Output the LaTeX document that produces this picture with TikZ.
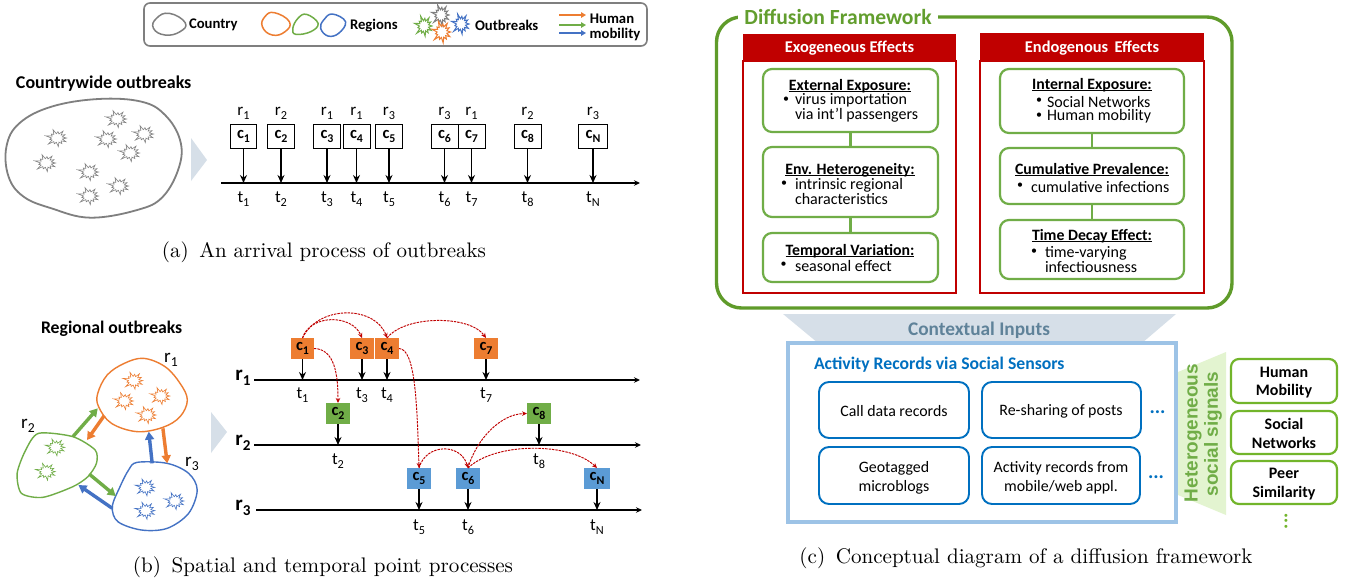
\documentclass[tikz,border=0pt]{standalone}
\usepackage{fontspec}
\usetikzlibrary{arrows.meta}
\newfontfamily\calib{Carlito}
\newfontfamily\arl{Liberation Sans}
\newcommand\fs[2]{\fontsize{#1}{#2}\selectfont}
\newcommand\sbs[1]{\raisebox{-.24em}{\scalebox{.72}{#1}}}
\newcommand\ulin[1]{\setbox0\hbox{#1}\rlap{\rule[-1.7pt]{\wd0}{.8pt}}\box0}
% #1 colour, #2 x, #3 y, #4 half width, #5 half height, #6 line width
\newcommand\burstat[6]{\draw[draw=#1,line width=#6,line join=miter,miter limit=8,shift={(#2,#3)},x=#4,y=#5]
  plot[samples at={0,...,25},variable=\q]
  ({((mod(\q,2)==0) ? (1+.22*sin(\q*97)) : .58)*cos(\q*360/26)},{((mod(\q,2)==0) ? (1+.22*sin(\q*97)) : .58)*sin(\q*360/26)}) -- cycle;}
\definecolor{cgray}{HTML}{7F7F7F}
\definecolor{corange}{HTML}{ED7D31}
\definecolor{cgreen}{HTML}{70AD47}
\definecolor{cblue}{HTML}{4472C4}
\definecolor{cred}{HTML}{C00000}
\definecolor{cpale}{HTML}{D6DFE8}
\definecolor{colive}{HTML}{5F9B2A}
\definecolor{csky}{HTML}{9DC3E6}
\definecolor{cdeep}{HTML}{0070C0}
\definecolor{clime}{HTML}{72B52B}
\definecolor{cmint}{HTML}{E3F4D0}
\definecolor{fillblue}{HTML}{5B9BD5}
\definecolor{cslate}{HTML}{5F8299}
\tikzset{
  txt/.style={inner sep=0pt,outer sep=0pt,font=\calib\fs{16}{15},align=center},
  txl/.style={txt,align=left,anchor=west},
  dotb/.style={txt,font=\calib\fs{12}{12}},
  bold/.style={inner sep=0pt,outer sep=0pt,anchor=base,font=\calib\bfseries\fs{15.8}{15}},
  legendtxt/.style={txt,font=\calib\bfseries\fs{14.7}{15}},
  capt/.style={inner sep=0pt,outer sep=0pt},
  blob/.style={line width=#1,line join=round},
  fat/.style={line width=3.4pt,-{Triangle[length=8pt,width=9pt]}},
  tick/.style={line width=1.4pt,-{Stealth[length=8pt,width=7pt]}},
  axis/.style={line width=1.7pt,-{Stealth[length=6pt,width=5.5pt]}},
  wbox/.style={draw=black,line width=.7pt,fill=white,minimum height=24pt,minimum width=26pt,inner sep=0pt,outer sep=0pt,font=\calib\bfseries\fs{16.5}{15}},
  fbox/.style={minimum height=21pt,minimum width=24pt,inner sep=0pt,outer sep=0pt,font=\calib\bfseries\fs{16.5}{15},fill=#1},
  rdash/.style={draw=cred,line width=.95pt,dash pattern=on 2.4pt off 1pt,-{Stealth[length=5pt,width=4.5pt]}},
  gbox/.style={draw=cgreen,line width=2.2pt,rounded corners=9pt,fill=white,inner sep=0pt,outer sep=0pt},
  glink/.style={draw=cgreen,line width=2.2pt},
  bbox/.style={draw=cdeep,line width=1.9pt,rounded corners=10pt,fill=white,inner sep=0pt,outer sep=0pt},
  btxt/.style={inner sep=0pt,outer sep=0pt,font=\calib\fs{15.9}{19},align=center},
  lbox/.style={draw=clime,line width=2.2pt,rounded corners=8pt,fill=white,inner sep=0pt,outer sep=0pt,minimum width=106pt},
  ltxt/.style={inner sep=0pt,outer sep=0pt,font=\calib\bfseries\fs{16}{18.5},align=center},
  phead/.style={fill=cred,inner sep=0pt,outer sep=0pt},
  headtxt/.style={text=white,inner sep=0pt,outer sep=0pt,font=\calib\bfseries\fs{16.4}{15}},
  pbody/.style={draw=cred,line width=1.5pt,fill=white,inner sep=0pt,outer sep=0pt},
  zoomA/.style={x=.4287pt,y=-.33333pt},
  zoomB/.style={x=.4287pt,y=-.33333pt,yshift=-300pt},
}
\begin{document}
\begin{tikzpicture}[x=1pt,y=-1pt]
\useasboundingbox (0,0) rectangle (1346,582);
\fill[white] (0,0) rectangle (1346,582);

% ---------- legend
\node[draw=cgray,line width=1.6pt,rounded corners=6pt,minimum width=503pt,minimum height=43pt,inner sep=0pt,outer sep=0pt] (legend) at (395.5,24.5) {};
\begin{scope}[zoomA]
\draw[cgray,blob=1.5pt] plot[smooth cycle,tension=.8] coordinates {(395,40)(432,68)(420,95)(385,105)(358,85)(365,55)};
\draw[corange,blob=1.5pt] plot[smooth cycle,tension=.8] coordinates {(640,38)(675,65)(665,95)(635,105)(612,80)(618,50)};
\draw[cgreen,blob=1.5pt] plot[smooth cycle,tension=.7] coordinates {(715,43)(742,70)(725,95)(690,103)(683,85)(695,55)};
\draw[cblue,blob=1.5pt] plot[smooth cycle,tension=.7] coordinates {(775,42)(806,65)(790,100)(765,108)(748,85)(755,60)};
\end{scope}
\node[legendtxt,anchor=west] (lcountry) at (189,24.5) {Country};
\node[legendtxt,anchor=west] (lregions) at (350,25.5) {Regions};
\node[legendtxt,anchor=west] (loutbreaks) at (475,25) {Outbreaks};
\burstat{cgreen}{424}{26}{8pt}{9pt}{1pt}
\burstat{cgray}{441}{15}{8pt}{9pt}{1pt}
\burstat{corange}{442}{32}{8.5pt}{9.5pt}{1pt}
\burstat{cblue}{461}{24}{8pt}{9pt}{1pt}
\foreach \n/\y/\c in {a/15/corange,b/25/cgreen,c/33/cblue}{
  \coordinate (ls\n) at (559,\y);
  \coordinate (le\n) at (586,\y);
  \draw[\c,line width=1.8pt,-{Triangle[length=5pt,width=5.5pt]}] (ls\n) -- (le\n);
}
\node[legendtxt] (lhuman) at (612,19) {Human};
\node[legendtxt] (lmob) at (615,34.5) {mobility};

% ---------- (a)
\node[txt,font=\calib\bfseries\fs{18}{16},anchor=west] (ttla) at (16,83.5) {Countrywide outbreaks};
\begin{scope}[zoomA]
\draw[cgray,blob=1.8pt] plot[smooth cycle,tension=.65] coordinates {(230,297)(330,305)(385,345)(420,420)(418,500)(380,590)(320,630)(210,653)(120,625)(55,590)(20,530)(15,440)(45,370)(120,320)};
\end{scope}
\foreach \i/\x/\y in {1/117/119,2/57/138,3/107/139,4/144/134,5/130/153,6/46/163,7/89/172,8/119/186,9/89/196}{
  \burstat{cgray}{\x}{\y}{9.5pt}{7.5pt}{.6pt}
}
\fill[cpale] (191,138) -- (191,181) -- (207,160) -- cycle;
\coordinate (axAs) at (221,183);
\coordinate (axAe) at (640,183);
\draw[axis] (axAs) -- (axAe);
\foreach \i/\x/\w/\rr/\c/\t in {1/243.5/26/1/1/1,2/281/27/2/2/2,3/327/27/1/3/3,4/356.5/27/1/4/4,5/389/27/3/5/5,6/444.5/27/3/6/6,7/471.5/27/1/7/7,8/527.5/27/2/8/8,9/593/29/3/N/N}{
  \node[wbox,minimum width=\w pt] (ca\i) at (\x,136) {c\sbs{\c}};
  \coordinate (pa\i) at (\x,183);
  \draw[tick] (ca\i.south) -- (pa\i);
  \node[txt,font=\calib\fs{17}{15}] (ra\i) at (\x,113.5) {r\sbs{\rr}};
  \node[txt,font=\calib\fs{17}{15}] (ta\i) at (\x,199) {t\sbs{\t}};
}
\node[capt] (capa) at (324,252) {\resizebox{324pt}{!}{(a)\hspace{.5em}An arrival process of outbreaks}};

% ---------- (b)
\node[txt,font=\calib\bfseries\fs{17.7}{16},anchor=west] (ttlb) at (41,329) {Regional outbreaks};
\begin{scope}[zoomB]
\draw[corange,blob=1.4pt] plot[smooth cycle,tension=.6] coordinates {(335,175)(385,200)(420,250)(437,300)(420,350)(380,382)(320,395)(260,370)(230,320)(228,280)(250,225)(290,190)};
\draw[cgreen,blob=1.4pt] plot[smooth cycle,tension=.45] coordinates {(90,400)(170,410)(222,450)(225,490)(205,530)(170,560)(100,592)(50,580)(40,520)(60,450)};
\draw[cblue,blob=1.4pt] plot[smooth cycle,tension=.55] coordinates {(320,487)(390,490)(440,520)(460,570)(440,640)(390,685)(330,690)(275,665)(262,620)(280,560)(300,510)};
\foreach \x/\y in {312/242,375/288,290/303,343/345}{\burstat{corange}{\x}{\y}{9pt}{7.5pt}{.6pt}}
\foreach \x/\y in {130/442,108/515}{\burstat{cgreen}{\x}{\y}{9pt}{7.5pt}{.6pt}}
\foreach \x/\y in {340/562,408/603,340/632}{\burstat{cblue}{\x}{\y}{9pt}{7.5pt}{.6pt}}
\coordinate (f1s) at (170,410); \coordinate (f1e) at (228,325);
\coordinate (f2s) at (243,347); \coordinate (f2e) at (203,420);
\coordinate (f3s) at (380,385); \coordinate (f3e) at (390,490);
\coordinate (f4s) at (355,490); \coordinate (f4e) at (347,395);
\coordinate (f5s) at (208,522); \coordinate (f5e) at (270,588);
\coordinate (f6s) at (262,625); \coordinate (f6e) at (183,555);
\end{scope}
\draw[fat,cgreen] (f1s) -- (f1e);
\draw[fat,corange] (f2s) -- (f2e);
\draw[fat,corange] (f3s) -- (f3e);
\draw[fat,cblue] (f4s) -- (f4e);
\draw[fat,cgreen] (f5s) -- (f5e);
\draw[fat,cblue] (f6s) -- (f6e);
\node[txt,font=\calib\fs{19}{17}] (rg1) at (171,360) {r\sbs{1}};
\node[txt,font=\calib\fs{19}{17}] (rg2) at (28,426) {r\sbs{2}};
\node[txt,font=\calib\fs{19}{17}] (rg3) at (192,464) {r\sbs{3}};
\fill[cpale] (211,412) -- (211,453) -- (227,432) -- cycle;
% axes
\foreach \n/\y/\xa/\xb in {1/380/254/640,2/445/254/641,3/510/256/642}{
  \coordinate (axs\n) at (\xa,\y);
  \coordinate (axe\n) at (\xb,\y);
  \draw[axis] (axs\n) -- (axe\n);
  \node[txt,font=\calib\bfseries\fs{21}{18}] (rl\n) at (243,\y-2) {r\sbs{\n}};
}
% event boxes
\foreach \k/\x/\w/\yy/\col/\ax/\ty in {1/302.5/23/348.5/corange/380/395,3/362/24/348.5/corange/380/395,4/387/24/348.5/corange/380/395,7/486/23.5/348.5/corange/380/395,2/338/24/413.5/cgreen/445/461,8/539/24/413.5/cgreen/445/461,5/419/24/478.5/fillblue/510/527,6/468/23.5/478.5/fillblue/510/527,N/597/26/478.5/fillblue/510/527}{
  \node[fbox=\col,minimum width=\w pt] (e\k) at (\x,\yy) {c\sbs{\k}};
  \coordinate (q\k) at (\x,\ax);
  \draw[tick] (e\k.south) -- (q\k);
  \node[txt,font=\calib\fs{17}{15}] (te\k) at (\x,\ty) {t\sbs{\k}};
}
\draw[rdash] (e1.north) .. controls (310,314) and (352,314) .. (e3.north);
\draw[rdash] (e1.north) .. controls (318,305) and (375,305) .. (e4.north);
\draw[rdash] (e4.north) .. controls (405,315) and (470,315) .. (e7.north);
\draw[rdash] (e1.east) .. controls (335,349) and (338,375) .. (e2.north);
\draw[rdash] (e4.east) .. controls (415,349) and (417,400) .. (e5.north);
\draw[rdash] (e5.north) .. controls (426,443) and (461,443) .. (e6.north);
\draw[rdash] (e6.north) .. controls (476,440) and (500,414) .. (e8.west);
\draw[rdash] (e6.north) .. controls (495,442) and (570,442) .. (eN.north);
\node[capt] (capb) at (323,567) {\resizebox{380pt}{!}{(b)\hspace{.5em}Spatial and temporal point processes}};

% ---------- (c) framework
\node[draw=colive,line width=3.4pt,rounded corners=25pt,minimum width=515.5pt,minimum height=291pt,inner sep=0pt,outer sep=0pt] (frame) at (974.25,162.5) {};
\node[fill=white,inner xsep=6pt,inner ysep=1pt,text=colive!85!cgreen,font=\calib\bfseries\fs{21.6}{20}] (ftitle) at (838,17) {Diffusion Framework};
\node[pbody,minimum width=213pt,minimum height=232pt] (exobody) at (849.5,177) {};
\node[phead,minimum width=213pt,minimum height=27pt] (exo) at (849.5,47.5) {};
\node[headtxt] (exot) at (849.5,48.5) {Exogeneous Effects};
\node[pbody,minimum width=224pt,minimum height=232pt] (endobody) at (1092,177) {};
\node[phead,minimum width=224pt,minimum height=28pt] (endo) at (1092,47) {};
\node[headtxt] (endot) at (1092,48.5) {Endogenous\ \,Effects};
\node[gbox,minimum width=175pt,minimum height=63pt] (x1) at (850.5,100.5) {};
\node[gbox,minimum width=175pt,minimum height=70pt] (x2) at (850.5,182) {};
\node[gbox,minimum width=175pt,minimum height=49pt] (x3) at (850.5,257.5) {};
\node[gbox,minimum width=184pt,minimum height=64pt] (y1) at (1092,101) {};
\node[gbox,minimum width=184pt,minimum height=56pt] (y2) at (1092,176) {};
\node[gbox,minimum width=184pt,minimum height=59pt] (y3) at (1092,249.5) {};
\draw[glink] (x1) -- (x2);
\draw[glink] (x2) -- (x3);
\draw[glink] (y1) -- (y2);
\draw[glink] (y2) -- (y3);
\node[bold] (x1h) at (850,90) {\ulin{External Exposure:}};
\node[dotb] (x1d) at (786,100) {•};
\node[txl] (x1t) at (795,108) {virus importation\\via int’l passengers};
\node[bold] (x2h) at (850,174) {\ulin{Env. Heterogeneity:}};
\node[dotb] (x2d) at (784,184) {•};
\node[txl] (x2t) at (795,191.5) {intrinsic regional\\characteristics};
\node[bold] (x3h) at (850,255) {\ulin{Temporal Variation:}};
\node[dotb] (x3d) at (783.5,265) {•};
\node[txl] (x3t) at (795,265.5) {seasonal effect};
\node[bold] (y1h) at (1092,89) {\ulin{Internal Exposure:}};
\node[dotb] (y1d) at (1039,101) {•};
\node[txl] (y1t) at (1047,101.5) {Social Networks};
\node[dotb] (y1e) at (1039,116) {•};
\node[txl] (y1u) at (1047,116.5) {Human mobility};
\node[bold] (y2h) at (1092,174) {\ulin{Cumulative Prevalence:}};
\node[dotb] (y2d) at (1020,186) {•};
\node[txl] (y2t) at (1031,186.5) {cumulative infections};
\node[bold] (y3h) at (1092,240) {\ulin{Time Decay Effect:}};
\node[dotb] (y3d) at (1034,252) {•};
\node[txl] (y3t) at (1045,259.5) {time-varying\\infectiousness};

% contextual inputs
\fill[cpale] (783,314) -- (1176,314) -- (1142,343) -- (818,343) -- cycle;
\node[txt,font=\calib\bfseries\fs{19.3}{17},text=cslate] (ctx) at (979,330) {Contextual Inputs};
\node[draw=csky,line width=3.2pt,minimum width=388pt,minimum height=179pt,inner sep=0pt,outer sep=0pt] (actframe) at (982,432.5) {};
\node[txt,font=\calib\bfseries\fs{17.7}{15},text=cdeep,anchor=west] (acttitle) at (814,364.5) {Activity Records via Social Sensors};
\node[bbox,minimum width=150pt,minimum height=56pt] (a1) at (894,410) {};
\node[bbox,minimum width=159pt,minimum height=56pt] (a2) at (1061.5,410) {};
\node[bbox,minimum width=150pt,minimum height=57pt] (a3) at (894,475.5) {};
\node[bbox,minimum width=158pt,minimum height=57pt] (a4) at (1061,475.5) {};
\node[btxt] (a1t) at (894,411.5) {Call data records};
\node[btxt] (a2t) at (1061,411.5) {Re-sharing of posts};
\node[btxt] (a3t) at (894,477.5) {Geotagged\\microblogs};
\node[btxt] (a4t) at (1061,477.5) {Activity records from\\mobile/web appl.};
\node[inner sep=0pt,outer sep=0pt,text=cdeep,font=\calib\bfseries\fs{20}{18}] (dots1) at (1157.5,412) {...};
\node[inner sep=0pt,outer sep=0pt,text=cdeep,font=\calib\bfseries\fs{20}{18}] (dots2) at (1156,477) {...};
% signals
\fill[cmint] (1178,372) -- (1226,352) -- (1226,515) -- (1178,495) -- cycle;
\node[rotate=90,inner sep=0pt,outer sep=0pt,text=cgreen,font=\arl\bfseries\fs{19}{19}] (het) at (1193,433) {Heterogeneous};
\node[rotate=90,inner sep=0pt,outer sep=0pt,text=cgreen,font=\arl\bfseries\fs{19}{19}] (soc) at (1213,434) {social signals};
\node[lbox,minimum height=44pt] (s1) at (1284,381) {};
\node[lbox,minimum height=43pt] (s2) at (1284,432.5) {};
\node[lbox,minimum height=43pt] (s3) at (1284,482.5) {};
\node[ltxt] (s1t) at (1284,382.5) {Human\\Mobility};
\node[ltxt] (s2t) at (1284,433.5) {Social\\Networks};
\node[ltxt] (s3t) at (1284,484) {Peer\\Similarity};
\node[rotate=90,inner sep=0pt,outer sep=0pt,text=clime,font=\calib\bfseries\fs{20}{18}] (dots3) at (1286,521) {...};
\node[capt] (capc) at (1026,558) {\resizebox{453pt}{!}{(c)\hspace{.5em}Conceptual diagram of a diffusion framework}};
\end{tikzpicture}
\end{document}
